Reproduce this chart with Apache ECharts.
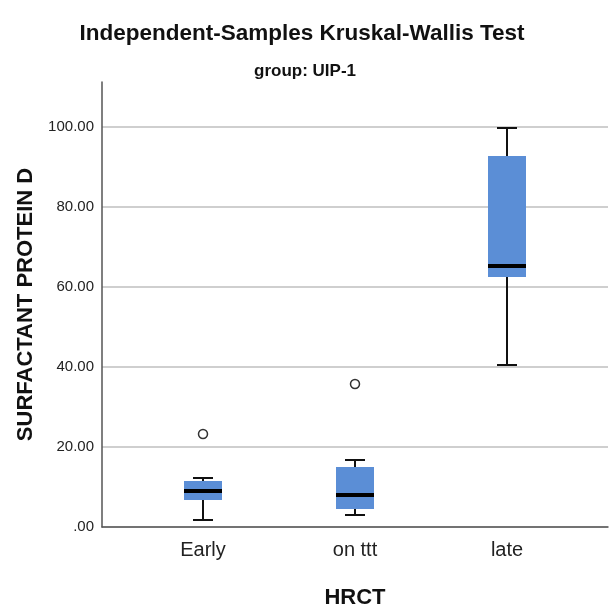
<!DOCTYPE html>
<html>
<head>
<meta charset="utf-8">
<script src="https://cdn.jsdelivr.net/npm/echarts@6/dist/echarts.min.js"></script>
<style>
    html, body { margin: 0; padding: 0; background: #fff; }
    #main { width: 609px; height: 604px; }
</style>
</head>
<body>
<div id="main"></div>
<script>
// categories of HRCT
var categories = ['Early', 'on ttt', 'late'];

// box stats per category: [low whisker, Q1, median, Q3, high whisker]
var boxStats = [
    [1.75, 6.75, 9.0, 11.5, 12.25],
    [3.0, 4.5, 8.0, 15.0, 16.75],
    [40.5, 62.5, 65.25, 92.75, 99.75]
];

// outliers: [category index, value]
var outliers = [
    [0, 23.25],
    [1, 35.75]
];

var yTicks = [0, 20, 40, 60, 80, 100];

var FONT = 'Liberation Sans, Arial, sans-serif';
var BOX_COLOR = '#5b8ed6';

/**
 * draw one box with whiskers and median line
 */
function renderBox(params, api) {
    var x = api.value(0);
    var low = api.coord([x, api.value(1)]);
    var q1 = api.coord([x, api.value(2)]);
    var med = api.coord([x, api.value(3)]);
    var q3 = api.coord([x, api.value(4)]);
    var high = api.coord([x, api.value(5)]);
    var cx = low[0];
    var half = 19;
    var cap = 10;
    var black = {stroke: '#111', lineWidth: 2};
    return {
        type: 'group',
        children: [
            {type: 'line', shape: {x1: cx, y1: q1[1], x2: cx, y2: low[1]}, style: black},
            {type: 'line', shape: {x1: cx, y1: q3[1], x2: cx, y2: high[1]}, style: black},
            {type: 'line', shape: {x1: cx - cap, y1: low[1], x2: cx + cap, y2: low[1]}, style: black},
            {type: 'line', shape: {x1: cx - cap, y1: high[1], x2: cx + cap, y2: high[1]}, style: black},
            {
                type: 'rect',
                shape: {x: cx - half, y: q3[1], width: half * 2, height: q1[1] - q3[1]},
                style: {fill: BOX_COLOR}
            },
            {
                type: 'line',
                shape: {x1: cx - half, y1: med[1], x2: cx + half, y2: med[1]},
                style: {stroke: '#000', lineWidth: 4}
            }
        ]
    };
}

var boxData = boxStats.map(function (s, i) {
    return [i].concat(s);
});

var chart = echarts.init(document.getElementById('main'));
chart.setOption({
    animation: false,
    title: [
        {
            text: 'Independent-Samples Kruskal-Wallis Test',
            left: 297,
            textAlign: 'center',
            top: 17,
            textStyle: {fontFamily: FONT, fontSize: 22.5, fontWeight: 'bold', color: '#111'}
        },
        {
            text: 'group: UIP-1',
            left: 300,
            textAlign: 'center',
            top: 58,
            textStyle: {fontFamily: FONT, fontSize: 17, fontWeight: 'bold', color: '#111'}
        }
    ],
    grid: [
        // boxes
        {left: 127, right: 26, top: 127, bottom: 77, outerBoundsMode: 'none'},
        // gridlines, labels
        {left: 102, right: 1, top: 127, bottom: 77, outerBoundsMode: 'none'},
        // tall y axis line
        {left: 102, right: 1, top: 82, bottom: 77, outerBoundsMode: 'none'}
    ],
    xAxis: [
        {
            gridIndex: 0,
            type: 'category',
            data: categories,
            axisLine: {show: false},
            axisTick: {show: false},
            axisLabel: {fontFamily: FONT, fontSize: 20, color: '#222', margin: 13},
            name: 'HRCT',
            nameLocation: 'middle',
            nameGap: 60,
            nameTextStyle: {fontFamily: FONT, fontSize: 22, fontWeight: 'bold', color: '#111'}
        },
        {
            gridIndex: 1,
            type: 'value',
            min: 0,
            max: 1,
            axisLine: {show: true, lineStyle: {color: '#555', width: 1.5}},
            axisTick: {show: false},
            axisLabel: {show: false},
            splitLine: {show: false}
        },
        {
            gridIndex: 2,
            type: 'value',
            min: 0,
            max: 1,
            show: false
        }
    ],
    yAxis: [
        {
            gridIndex: 0,
            type: 'value',
            min: 0,
            max: 100,
            show: false
        },
        {
            gridIndex: 1,
            type: 'value',
            min: yTicks[0],
            max: yTicks[yTicks.length - 1],
            interval: 20,
            axisLine: {show: false},
            axisTick: {show: false},
            axisLabel: {
                fontFamily: FONT,
                fontSize: 15,
                color: '#222',
                margin: 8,
                formatter: function (v) {
                    return v === 0 ? '.00' : v.toFixed(2);
                }
            },
            splitLine: {lineStyle: {color: '#cfcfcf', width: 2}}
        },
        {
            gridIndex: 2,
            type: 'value',
            min: 0,
            max: 1,
            axisLine: {show: true, lineStyle: {color: '#555', width: 1.5}},
            axisTick: {show: false},
            axisLabel: {show: false},
            splitLine: {show: false},
            name: 'SURFACTANT PROTEIN D',
            nameLocation: 'middle',
            nameGap: 65,
            nameTextStyle: {fontFamily: FONT, fontSize: 22, fontWeight: 'bold', color: '#111'}
        }
    ],
    series: [
        {
            type: 'custom',
            xAxisIndex: 0,
            yAxisIndex: 0,
            renderItem: renderBox,
            encode: {x: 0, y: [1, 2, 3, 4, 5]},
            data: boxData,
            z: 3
        },
        {
            type: 'scatter',
            xAxisIndex: 0,
            yAxisIndex: 0,
            symbol: 'circle',
            symbolSize: 9,
            itemStyle: {color: '#fff', borderColor: '#333', borderWidth: 1.5, opacity: 1},
            data: outliers,
            z: 4
        }
    ]
});
</script>
</body>
</html>
